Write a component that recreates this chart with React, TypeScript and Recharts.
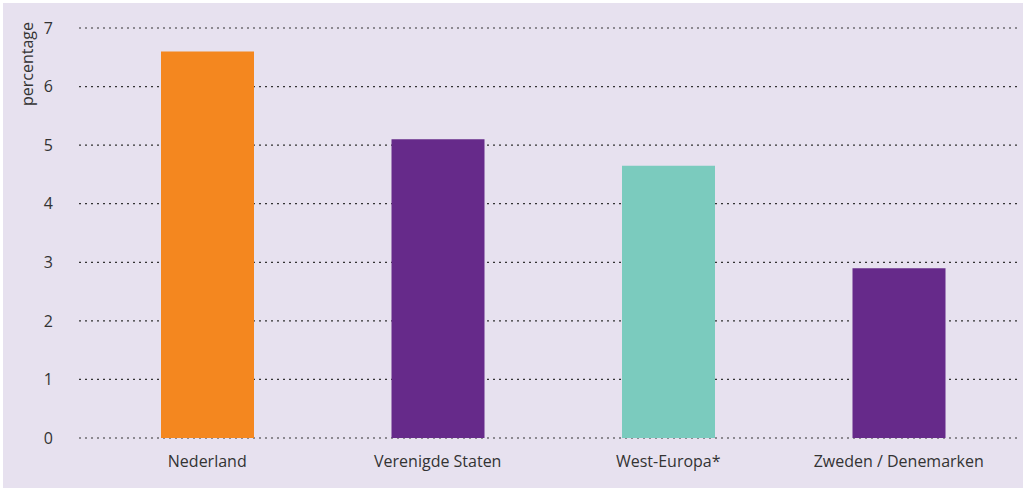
import React from 'react';
import { BarChart, Bar, XAxis, YAxis, CartesianGrid, Cell } from 'recharts';

const regions = ['Nederland', 'Verenigde Staten', 'West-Europa*', 'Zweden / Denemarken'];
const shares = [6.6, 5.1, 4.65, 2.9];
const barColors = ['#f4871f', '#662a8a', '#7bcbbe', '#662a8a'];
const yTicks = [0, 1, 2, 3, 4, 5, 6, 7];

const data = regions.map((name, i) => ({ name, value: shares[i] }));

const font = '"Open Sans", sans-serif';

const AxisTitle = (props: any) => {
  const { viewBox } = props;
  const x = 30;
  const y = viewBox.y - 6;
  return (
    <text
      x={x}
      y={y}
      transform={`rotate(-90, ${x}, ${y})`}
      textAnchor="end"
      fill="#333"
      fontSize={16}
      fontFamily={font}
    >
      percentage
    </text>
  );
};

export default function App() {
  return (
    <div style={{ position: 'absolute', left: 0, top: 0, width: 1026, height: 490, background: '#fff' }}>
      <div style={{ position: 'absolute', left: 3, top: 3, width: 1020, height: 485, background: '#e7e1ef' }}>
        <BarChart
          width={1020}
          height={485}
          data={data}
          margin={{ top: 25, right: 5, left: 0, bottom: 20 }}
        >
          <CartesianGrid vertical={false} stroke="#333" strokeDasharray="2 4" strokeWidth={1.2} />
          <XAxis
            dataKey="name"
            axisLine={false}
            tickLine={false}
            tickSize={0}
            tickMargin={18}
            height={30}
            padding={{ left: 13, right: 4 }}
            tick={{ fill: '#333', fontSize: 16, fontFamily: font }}
          />
          <YAxis
            domain={[0, 7]}
            ticks={yTicks}
            width={76}
            axisLine={false}
            tickLine={false}
            tickSize={0}
            tickMargin={26}
            tick={{ fill: '#333', fontSize: 16, fontFamily: font, textAnchor: 'end' }}
            label={<AxisTitle />}
          />
          <Bar dataKey="value" barSize={93} isAnimationActive={false}>
            {data.map((d, i) => (
              <Cell key={d.name} fill={barColors[i]} />
            ))}
          </Bar>
        </BarChart>
      </div>
    </div>
  );
}
